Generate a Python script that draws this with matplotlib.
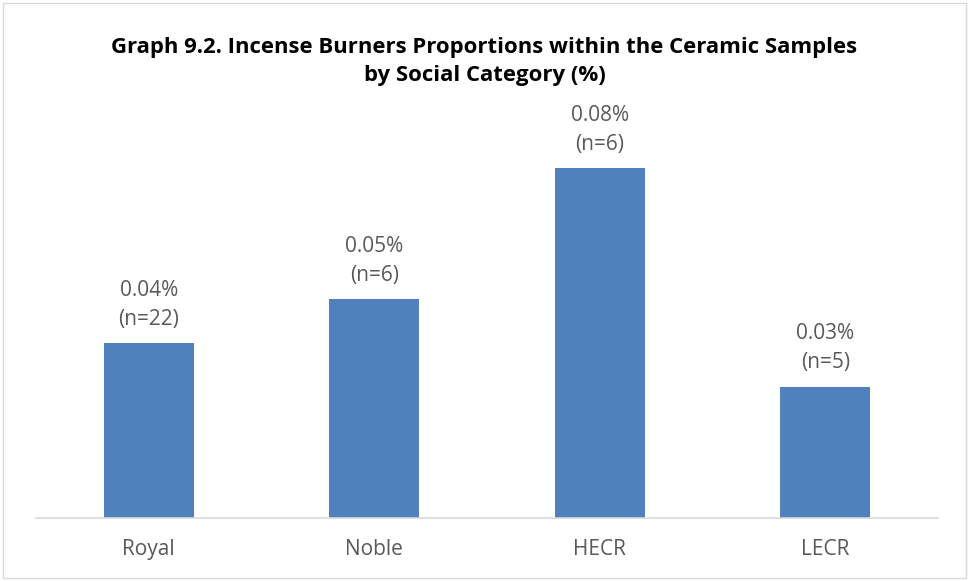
import matplotlib.pyplot as plt
from matplotlib.patches import Rectangle

# data
categories = ["Royal", "Noble", "HECR", "LECR"]
proportions = [0.04, 0.05, 0.08, 0.03]
counts = [22, 6, 6, 5]

plt.rcParams['font.family'] = ['Open Sans', 'DejaVu Sans']

fig = plt.figure(figsize=(9.69, 5.81), dpi=100)
# plot area: x 36..938 px, baseline at y=518 px
ax = fig.add_axes([36 / 969, (581 - 518) / 581, 902 / 969, 394 / 581])

x = range(len(categories))
ax.bar(x, proportions, width=0.4, color="#4F81BD")
ax.set_xlim(-0.5, len(categories) - 0.5)
ax.set_ylim(0, 0.09)

for i, (v, n) in enumerate(zip(proportions, counts)):
    ax.annotate(f"{v:.2f}%\n(n={n})", (i, v), xytext=(0, 9.5),
                textcoords="offset points", ha="center", va="bottom",
                fontsize=15, color="#595959", linespacing=1.5)

ax.set_xticks(list(x))
ax.set_xticklabels(categories, fontsize=15, color="#595959")
ax.tick_params(axis="x", length=0, pad=15)
ax.set_yticks([])
for side in ["top", "right", "left"]:
    ax.spines[side].set_visible(False)
ax.spines["bottom"].set_color("#D9D9D9")
ax.spines["bottom"].set_linewidth(1.2)

fig.text(0.5, 1 - 47 / 581,
         "Graph 9.2. Incense Burners Proportions within the Ceramic Samples",
         ha="center", va="center", fontsize=15.9, fontweight="bold", color="black")
fig.text(0.5, 1 - 76 / 581, "by Social Category (%)",
         ha="center", va="center", fontsize=15.9, fontweight="bold", color="black")

# chart border
fig.patches.append(Rectangle((3 / 969, 3 / 581), 963 / 969, 575 / 581,
                             transform=fig.transFigure, fill=False,
                             edgecolor="#D9D9D9", linewidth=1))

fig.savefig("out.png", dpi=100)
